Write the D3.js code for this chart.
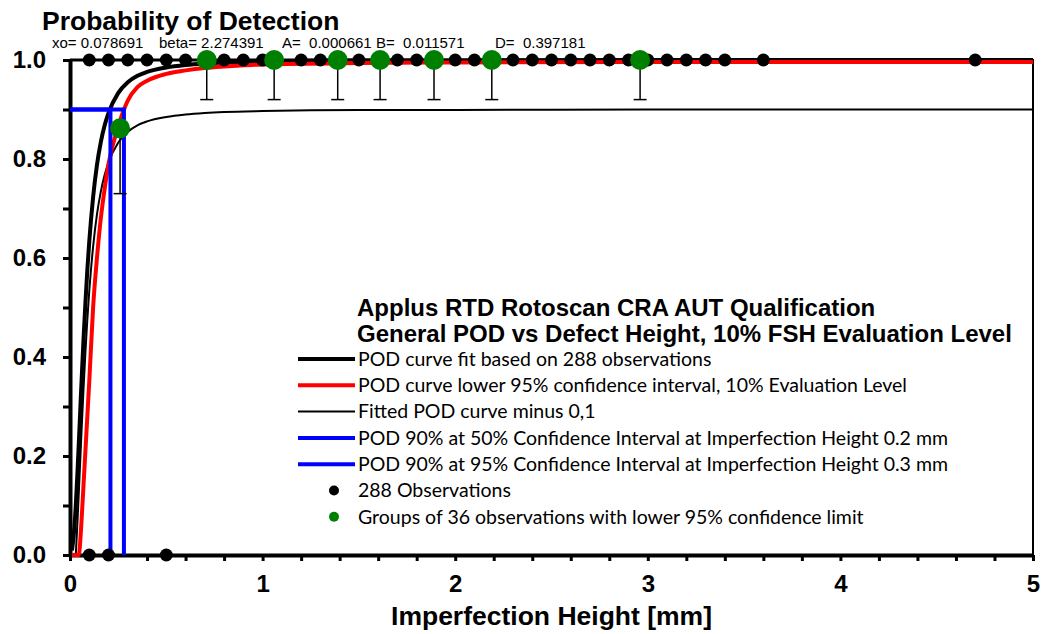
<!DOCTYPE html>
<html>
  <head>
    <meta charset="utf-8">
    <style>
    body { margin: 0; background: #fff; }
    #chart-area svg { display: block; font-family: "Liberation Sans", Arial, sans-serif; }
    .axis text { font-weight: bold; font-size: 24px; font-family: "Liberation Sans", Arial, sans-serif; }
    .legend-item { font-family: Lato, "Open Sans", sans-serif; font-size: 19.5px; }
    .legend-title { font-weight: bold; font-size: 24px; }
    </style>
  </head>
  <body>
    <div id="chart-area"></div>

    <script src="https://d3js.org/d3.v7.min.js"></script>
    <script>
      // fitted POD curve (black, thick)
      const fitX   = [0.01, 0.02, 0.03, 0.04, 0.05, 0.06, 0.07, 0.08, 0.09, 0.10, 0.12, 0.14, 0.16, 0.18, 0.20, 0.25, 0.30, 0.35, 0.40, 0.50, 0.60, 0.70, 0.80, 1.0, 1.5, 2.0, 3.0, 5.0];
      const fitPOD = [0.009, 0.043, 0.100, 0.177, 0.263, 0.351, 0.434, 0.509, 0.576, 0.633, 0.723, 0.788, 0.834, 0.868, 0.893, 0.933, 0.955, 0.968, 0.976, 0.985, 0.990, 0.993, 0.995, 0.997, 0.999, 0.999, 1.000, 1.000];

      // fitted POD minus 0,1 (black, thin)
      const minusX   = [0.03, 0.04, 0.05, 0.06, 0.07, 0.08, 0.09, 0.10, 0.12, 0.14, 0.16, 0.18, 0.20, 0.25, 0.30, 0.35, 0.40, 0.50, 0.60, 0.70, 0.80, 1.0, 1.5, 2.0, 3.0, 5.0];
      const minusPOD = [0.000, 0.077, 0.163, 0.251, 0.334, 0.409, 0.476, 0.533, 0.623, 0.688, 0.734, 0.768, 0.793, 0.833, 0.855, 0.868, 0.876, 0.885, 0.890, 0.893, 0.895, 0.897, 0.899, 0.899, 0.900, 0.900];

      // lower 95% confidence curve (red)
      const lowerX   = [0.01, 0.045, 0.06, 0.07, 0.08, 0.09, 0.10, 0.12, 0.14, 0.16, 0.18, 0.20, 0.25, 0.28, 0.30, 0.35, 0.40, 0.50, 0.60, 0.70, 0.80, 1.0, 1.5, 2.0, 3.0, 5.0];
      const lowerPOD = [0, 0, 0.07, 0.14, 0.21, 0.28, 0.35, 0.50, 0.60, 0.68, 0.74, 0.79, 0.865, 0.90, 0.918, 0.945, 0.958, 0.972, 0.979, 0.984, 0.987, 0.991, 0.994, 0.995, 0.996, 0.996];

      // POD 90% markers (blue)
      const podTarget = 0.9;
      const targetHeights = [0.21, 0.28];

      // observations (hit = 1, miss = 0)
      const hitX  = [0.1, 0.2, 0.3, 0.4, 0.5, 0.6, 0.7, 0.8, 0.9, 1.0, 1.2, 1.3, 1.4, 1.5, 1.6, 1.7, 1.8, 1.9, 2.0, 2.1, 2.2, 2.3, 2.4, 2.5, 2.6, 2.7, 2.8, 2.9, 3.0, 3.1, 3.2, 3.3, 3.4, 3.6, 4.7];
      const missX = [0.1, 0.2, 0.5];

      // groups of 36 observations with lower 95% limit
      const groupX     = [0.26, 0.71, 1.06, 1.39, 1.61, 1.89, 2.19, 2.96];
      const groupPOD   = [0.862, 1, 1, 1, 1, 1, 1, 1];
      const groupLower = [0.73, 0.92, 0.92, 0.92, 0.92, 0.92, 0.92, 0.92];

      const yTicks = [0, 0.1, 0.2, 0.3, 0.4, 0.5, 0.6, 0.7, 0.8, 0.9, 1.0];
      const xTicks = [0, 0.2, 0.4, 0.6, 0.8, 1, 1.2, 1.4, 1.6, 1.8, 2, 2.2, 2.4, 2.6, 2.8, 3, 3.2, 3.4, 3.6, 3.8, 4, 4.2, 4.4, 4.6, 4.8, 5];

      const legendItems = [
        { label: "POD curve fit based on 288 observations", type: "line", color: "#000", w: 4 },
        { label: "POD curve lower 95% confidence interval, 10% Evaluation Level", type: "line", color: "#ff0000", w: 4 },
        { label: "Fitted POD curve minus 0,1", type: "line", color: "#000", w: 2 },
        { label: "POD 90% at 50% Confidence Interval at Imperfection Height 0.2 mm", type: "line", color: "#0000ff", w: 4 },
        { label: "POD 90% at 95% Confidence Interval at Imperfection Height 0.3 mm", type: "line", color: "#0000ff", w: 4 },
        { label: "288 Observations", type: "dot", color: "#000" },
        { label: "Groups of 36 observations with lower 95% confidence limit", type: "dot", color: "#008000" }
      ];

      const width = 1042;
      const height = 634;

      const svg = d3.select("#chart-area")
        .append("svg")
          .attr("width", width)
          .attr("height", height);

      const x = d3.scaleLinear().domain([0, 5]).range([70, 1033]);
      const y = d3.scaleLinear().domain([0, 1]).range([555, 60]);

      // frame
      svg.append("rect")
        .attr("x", x(0)).attr("y", y(1))
        .attr("width", x(5) - x(0)).attr("height", y(0) - y(1))
        .attr("fill", "none").attr("stroke", "#000").attr("stroke-width", 2);
      svg.append("line")
        .attr("x1", x(0)).attr("x2", x(5)).attr("y1", y(1)).attr("y2", y(1))
        .attr("stroke", "#000").attr("stroke-width", 3);

      // axes
      svg.append("g")
        .attr("class", "axis")
        .attr("transform", `translate(${x(0)},0)`)
        .call(d3.axisLeft(y)
          .tickValues(yTicks)
          .tickSize(7)
          .tickSizeOuter(0)
          .tickPadding(17)
          .tickFormat(d => Math.round(d * 10) % 2 === 0 ? d3.format(".1f")(d) : ""));

      svg.append("g")
        .attr("class", "axis")
        .attr("transform", `translate(0,${y(0)})`)
        .call(d3.axisBottom(x)
          .tickValues(xTicks)
          .tickSize(6)
          .tickSizeOuter(0)
          .tickPadding(14)
          .tickFormat(d => Math.abs(d - Math.round(d)) < 1e-6 ? d : ""));

      svg.selectAll(".axis .domain").attr("stroke", "#000").attr("stroke-width", 4);
      svg.selectAll(".axis .tick line").attr("stroke", "#000").attr("stroke-width", 3);
      svg.selectAll(".axis text").attr("fill", "#000");

      // curves
      const line = d3.line()
        .x(d => x(d[0]))
        .y(d => y(d[1]))
        .curve(d3.curveMonotoneX);

      svg.append("path")
        .datum(fitX.map((v, i) => [v, fitPOD[i]]))
        .attr("d", line)
        .attr("fill", "none").attr("stroke", "#000").attr("stroke-width", 4);

      svg.append("path")
        .datum(minusX.map((v, i) => [v, minusPOD[i]]))
        .attr("d", line)
        .attr("fill", "none").attr("stroke", "#000").attr("stroke-width", 2);

      svg.append("path")
        .datum(lowerX.map((v, i) => [v, lowerPOD[i]]))
        .attr("d", line)
        .attr("fill", "none").attr("stroke", "#ff0000").attr("stroke-width", 4);

      // POD 90% blue markers
      targetHeights.forEach(h => {
        svg.append("path")
          .attr("d", d3.line()([[x(0), y(podTarget)], [x(h), y(podTarget)], [x(h), y(0)]]))
          .attr("fill", "none").attr("stroke", "#0000ff").attr("stroke-width", 4);
      });

      // observations
      svg.append("g").selectAll("circle")
        .data(hitX.map(v => [v, 1]).concat(missX.map(v => [v, 0])))
        .join("circle")
          .attr("cx", d => x(d[0]))
          .attr("cy", d => y(d[1]))
          .attr("r", 6.5)
          .attr("fill", "#000");

      // group error bars
      const bars = svg.append("g");
      groupX.forEach((g, i) => {
        bars.append("line")
          .attr("x1", x(g)).attr("x2", x(g))
          .attr("y1", y(groupPOD[i])).attr("y2", y(groupLower[i]))
          .attr("stroke", "#000").attr("stroke-width", 1.5);
        bars.append("line")
          .attr("x1", x(g) - 6.5).attr("x2", x(g) + 6.5)
          .attr("y1", y(groupLower[i])).attr("y2", y(groupLower[i]))
          .attr("stroke", "#000").attr("stroke-width", 1.5);
      });

      svg.append("g").selectAll("circle")
        .data(groupX.map((v, i) => [v, groupPOD[i]]))
        .join("circle")
          .attr("cx", d => x(d[0]))
          .attr("cy", d => y(d[1]))
          .attr("r", 10)
          .attr("fill", "#008000");

      // titles
      svg.append("text")
        .attr("x", 42).attr("y", 30)
        .attr("font-size", 26.5).attr("font-weight", "bold")
        .text("Probability of Detection");

      const params = svg.append("text")
        .attr("y", 48)
        .attr("font-size", 15);
      [["xo= 0.078691", 52], ["beta= 2.274391", 159], ["A=  0.000661", 282], ["B=  0.011571", 376], ["D=  0.397181", 495]]
        .forEach(p => params.append("tspan").attr("x", p[1]).style("white-space", "pre").text(p[0]));

      svg.append("text")
        .attr("x", (x(0) + x(5)) / 2).attr("y", 625)
        .attr("text-anchor", "middle")
        .attr("font-size", 26.5).attr("font-weight", "bold")
        .text("Imperfection Height [mm]");

      // legend
      const legend = svg.append("g");
      legend.append("text").attr("class", "legend-title")
        .attr("x", 357).attr("y", 316)
        .text("Applus RTD Rotoscan CRA AUT Qualification");
      legend.append("text").attr("class", "legend-title")
        .attr("x", 357).attr("y", 342)
        .text("General POD vs Defect Height, 10% FSH Evaluation Level");

      legendItems.forEach((item, i) => {
        const ry = 359 + i * 26.3;
        if (item.type === "line") {
          legend.append("line")
            .attr("x1", 298).attr("x2", 355).attr("y1", ry).attr("y2", ry)
            .attr("stroke", item.color).attr("stroke-width", item.w);
        } else {
          legend.append("circle")
            .attr("cx", 334).attr("cy", ry).attr("r", 5)
            .attr("fill", item.color);
        }
        legend.append("text").attr("class", "legend-item")
          .attr("x", 358).attr("y", ry).attr("dy", "0.35em")
          .text(item.label);
      });
    </script>
  </body>
</html>
